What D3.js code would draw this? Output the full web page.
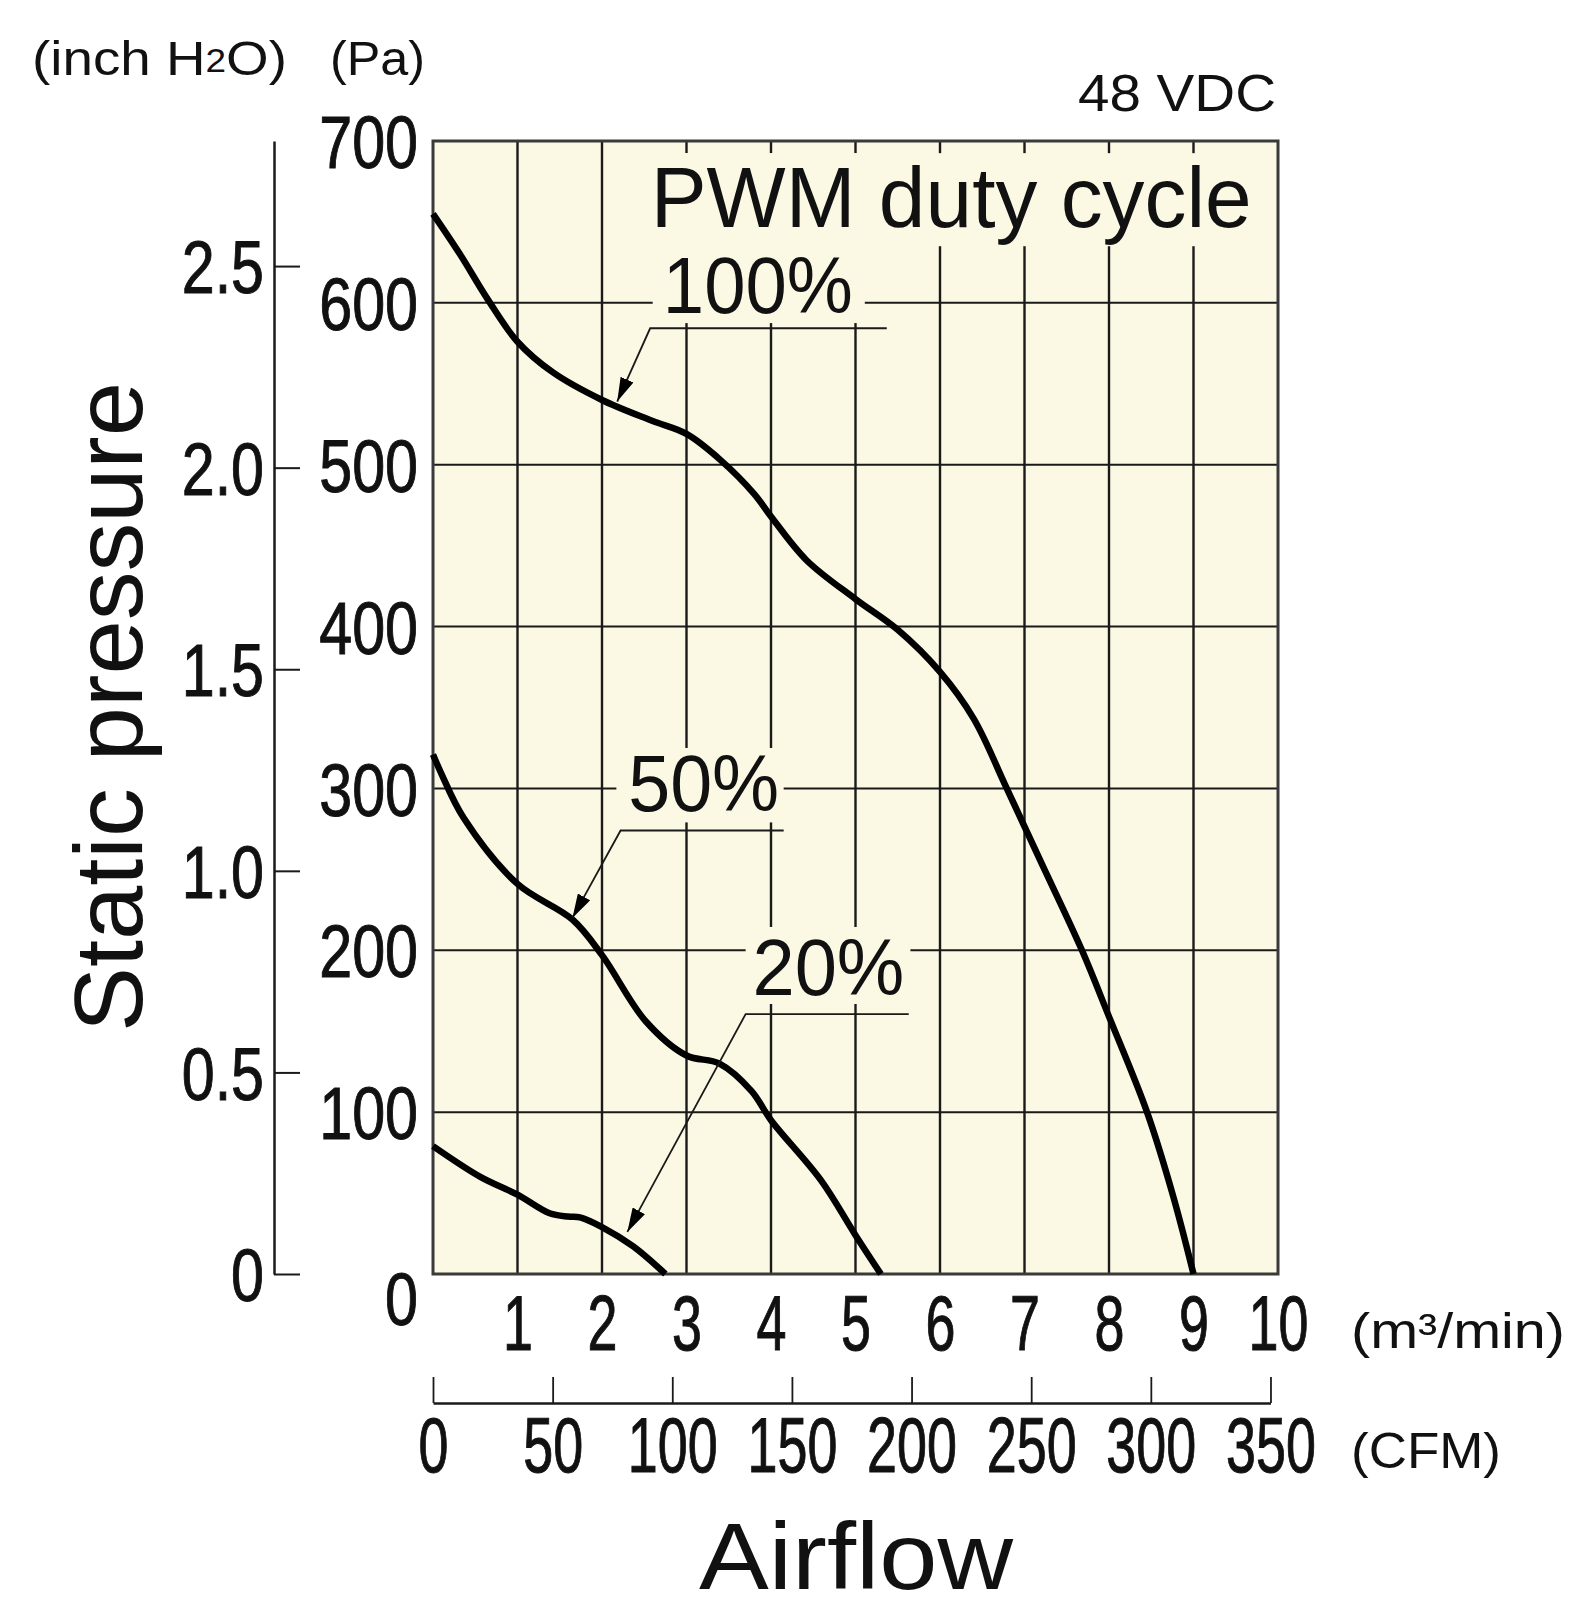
<!DOCTYPE html>
<html>
<head>
<meta charset="utf-8">
<script src="https://cdn.jsdelivr.net/npm/d3@7"></script>
<style>
  body { margin: 0; background: #fff; }
  svg text { font-family: "Liberation Sans", Arial, Helvetica, sans-serif; fill: #111; }
</style>
</head>
<body>
<svg id="chart" width="1569" height="1618"></svg>
<script>
// P-Q curves, airflow in m3/min, static pressure in Pa
var flow_100 = [0, 0.32, 0.65, 1.0, 1.42, 2.0, 2.6, 3.0, 3.4, 3.8, 4.0, 4.42, 5.0, 5.5, 6.0, 6.4, 6.79, 7.2, 7.68, 8.0, 8.45, 8.76, 9.0]
var pa_100   = [655, 630, 602, 576, 557, 540, 527, 519, 503, 482, 468, 441, 417, 398, 372, 343, 300, 254, 200, 159, 100, 48, 0]

var flow_50 = [0, 0.1, 0.36, 1.0, 1.65, 2.0, 2.52, 3.0, 3.39, 3.77, 4.0, 4.59, 5.0, 5.3]
var pa_50   = [321, 309, 282, 241, 219, 197, 156, 135, 130, 113, 95, 58, 24, 0]

var flow_20 = [0, 0.56, 1.0, 1.38, 1.6, 1.74, 2.0, 2.37, 2.75]
var pa_20   = [79, 60, 49, 37.5, 35.5, 35, 29, 17, 0]

var duty_labels = ["100%", "50%", "20%"]

// tick labels
var pa_ticks = [0, 100, 200, 300, 400, 500, 600, 700]
var inch_ticks = [0, 0.5, 1.0, 1.5, 2.0, 2.5]
var flow_ticks = [1, 2, 3, 4, 5, 6, 7, 8, 9, 10]
var cfm_ticks = [0, 50, 100, 150, 200, 250, 300, 350]

var PA_PER_INCH = 249.0889
var CFM_PER_M3MIN = 35.3147

var svg = d3.select("#chart")
var pL = 433, pR = 1278, pT = 141, pB = 1274

var x = d3.scaleLinear().domain([0, 10]).range([pL, pR])
var y = d3.scaleLinear().domain([0, 700]).range([pB, pT])
var yIn = d3.scaleLinear().domain([0, 700 / PA_PER_INCH]).range([pB, pT])
var xCfm = d3.scaleLinear().domain([0, 350]).range([x(0), x(350 / CFM_PER_M3MIN)])

var ink = "#1a1a1a"
var paper = "#fbf8e4"

// plot background
svg.append("rect")
  .attr("x", pL).attr("y", pT)
  .attr("width", pR - pL).attr("height", pB - pT)
  .attr("fill", paper)

// grid
var grid = svg.append("g")
grid.selectAll(".hgrid")
  .data(pa_ticks.filter(function(d) { return d > 0 && d < 700 }))
  .enter().append("line")
    .attr("x1", pL).attr("x2", pR)
    .attr("y1", function(d) { return y(d) }).attr("y2", function(d) { return y(d) })
    .attr("stroke", ink).attr("stroke-width", 2)
grid.selectAll(".vgrid")
  .data(flow_ticks.filter(function(d) { return d < 10 }))
  .enter().append("line")
    .attr("y1", pT).attr("y2", pB)
    .attr("x1", function(d) { return x(d) }).attr("x2", function(d) { return x(d) })
    .attr("stroke", ink).attr("stroke-width", 2.4)

// paper patches that break the grid behind the labels [m0, m1, pa_top, pa_bottom]
var patches = [
  [2.51, 9.98, 692.5, 635],   // PWM duty cycle
  [2.6, 5.11, 692.5, 587.5],  // 100%
  [2.17, 4.15, 325, 279],     // 50%
  [3.7, 5.65, 214.4, 166.8]   // 20%
]
svg.selectAll(".patch")
  .data(patches)
  .enter().append("rect")
    .attr("x", function(d) { return x(d[0]) })
    .attr("y", function(d) { return y(d[2]) })
    .attr("width", function(d) { return x(d[1]) - x(d[0]) })
    .attr("height", function(d) { return y(d[3]) - y(d[2]) })
    .attr("fill", paper)

// border
svg.append("rect")
  .attr("x", pL).attr("y", pT)
  .attr("width", pR - pL).attr("height", pB - pT)
  .attr("fill", "none").attr("stroke", "#3a3a3a").attr("stroke-width", 3)

// curves
var line = d3.line()
  .x(function(d) { return x(d[0]) })
  .y(function(d) { return y(d[1]) })
  .curve(d3.curveCatmullRom.alpha(0.5))

var series = [d3.zip(flow_100, pa_100), d3.zip(flow_50, pa_50), d3.zip(flow_20, pa_20)]
svg.selectAll(".curve")
  .data(series)
  .enter().append("path")
    .attr("d", line)
    .attr("fill", "none")
    .attr("stroke", "#000")
    .attr("stroke-width", 6.5)
    .attr("stroke-linejoin", "round")

// arrow head
svg.append("defs").append("marker")
  .attr("id", "head")
  .attr("viewBox", "0 -7 24 14")
  .attr("refX", 24).attr("refY", 0)
  .attr("markerUnits", "userSpaceOnUse")
  .attr("markerWidth", 24).attr("markerHeight", 14)
  .attr("orient", "auto")
  .append("path").attr("d", "M0,-7L24,0L0,7Z").attr("fill", "#000")

// duty cycle labels with leader lines, placed in data units
var notes = [
  {tx: 2.72, ty: 594, tw: 190, lx0: 2.57, lx1: 5.37, ly: 584.3, px: 2.18, py: 539},
  {tx: 2.31, ty: 286, tw: 151, lx0: 2.22, lx1: 4.15, ly: 274, px: 1.65, py: 220},
  {tx: 3.78, ty: 172.4, tw: 152, lx0: 3.7, lx1: 5.63, ly: 160.6, px: 2.3, py: 26}
]
notes.forEach(function(n, i) {
  svg.append("text")
    .attr("x", x(n.tx)).attr("y", y(n.ty))
    .attr("font-size", 79)
    .attr("textLength", n.tw).attr("lengthAdjust", "spacingAndGlyphs")
    .text(duty_labels[i])
  svg.append("path")
    .attr("d", "M" + x(n.lx1) + "," + y(n.ly) + "H" + x(n.lx0) + "L" + x(n.px) + "," + y(n.py))
    .attr("fill", "none").attr("stroke", ink).attr("stroke-width", 1.8)
    .attr("marker-end", "url(#head)")
})

svg.append("text")
  .attr("x", x(2.576)).attr("y", y(647))
  .attr("font-size", 86)
  .attr("textLength", 601).attr("lengthAdjust", "spacingAndGlyphs")
  .text("PWM duty cycle")

// condensed, slightly heavier digits like the original
function digits(sel, size) {
  sel.attr("font-size", size).attr("fill", "#111")
    .attr("stroke", "#111").attr("stroke-width", 1)
}

// Pa axis (labels only)
var paAxis = svg.append("g")
  .attr("transform", "translate(" + pL + ",0)")
  .call(d3.axisLeft(y).tickValues(pa_ticks).tickSize(0).tickFormat(d3.format("d")))
paAxis.select(".domain").remove()
paAxis.selectAll("text").call(digits, 74)
  .attr("x", -15 / 0.8).attr("dy", "0.36em")
  .attr("transform", function(d) { return (d === 0 ? "translate(0,24) " : "") + "scale(0.8,1)" })

// inch H2O axis
var inAxis = svg.append("g")
  .attr("transform", "translate(274,0)")
  .call(d3.axisLeft(yIn).tickValues(inch_ticks).tickSizeInner(-26).tickSizeOuter(0)
    .tickFormat(function(d) { return d === 0 ? "0" : d.toFixed(1) }))
inAxis.select(".domain").attr("stroke", ink).attr("stroke-width", 2.5)
inAxis.selectAll(".tick line").attr("stroke", ink).attr("stroke-width", 2)
inAxis.selectAll("text").call(digits, 74)
  .attr("x", -10 / 0.8).attr("dy", "0.36em")
  .attr("transform", "scale(0.8,1)")

// m3/min axis (labels only)
var flowAxis = svg.append("g")
  .attr("transform", "translate(0," + pB + ")")
  .call(d3.axisBottom(x).tickValues(flow_ticks).tickSize(0).tickFormat(d3.format("d")))
flowAxis.select(".domain").remove()
flowAxis.selectAll("text").call(digits, 77)
  .attr("y", 76).attr("dy", null)
  .attr("transform", "scale(0.7,1)")

// CFM axis
var cfmAxis = svg.append("g")
  .attr("transform", "translate(0,1403)")
  .call(d3.axisBottom(xCfm).tickValues(cfm_ticks).tickSizeInner(-26).tickSizeOuter(0).tickPadding(0))
cfmAxis.select(".domain").attr("stroke", ink).attr("stroke-width", 2.5)
cfmAxis.selectAll(".tick line").attr("stroke", ink).attr("stroke-width", 1.8)
cfmAxis.selectAll("text").call(digits, 77)
  .attr("y", 69).attr("dy", null)
  .attr("transform", "scale(0.7,1)")

// unit labels and titles
svg.append("text")
  .attr("x", 32).attr("y", 75)
  .attr("font-size", 49)
  .attr("textLength", 255).attr("lengthAdjust", "spacingAndGlyphs")
  .call(function(t) {
    t.append("tspan").text("(inch H")
    t.append("tspan").attr("font-size", 33).attr("dy", -3).text("2")
    t.append("tspan").attr("dy", 3).text("O)")
  })
svg.append("text")
  .attr("x", 330).attr("y", 75)
  .attr("font-size", 49)
  .attr("textLength", 95).attr("lengthAdjust", "spacingAndGlyphs")
  .text("(Pa)")
svg.append("text")
  .attr("x", 1276).attr("y", 111)
  .attr("text-anchor", "end")
  .attr("font-size", 52)
  .attr("textLength", 198).attr("lengthAdjust", "spacingAndGlyphs")
  .text("48 VDC")
svg.append("text")
  .attr("x", 1351).attr("y", 1348)
  .attr("font-size", 50)
  .attr("textLength", 214).attr("lengthAdjust", "spacingAndGlyphs")
  .text("(m³/min)")
svg.append("text")
  .attr("x", 1351).attr("y", 1468)
  .attr("font-size", 50)
  .attr("textLength", 150).attr("lengthAdjust", "spacingAndGlyphs")
  .text("(CFM)")
svg.append("text")
  .attr("transform", "translate(141.7,707) rotate(-90)")
  .attr("text-anchor", "middle")
  .attr("font-size", 97)
  .attr("textLength", 650).attr("lengthAdjust", "spacingAndGlyphs")
  .text("Static pressure")
svg.append("text")
  .attr("x", 856).attr("y", 1589)
  .attr("text-anchor", "middle")
  .attr("font-size", 95)
  .attr("textLength", 314).attr("lengthAdjust", "spacingAndGlyphs")
  .text("Airflow")
</script>
</body>
</html>
